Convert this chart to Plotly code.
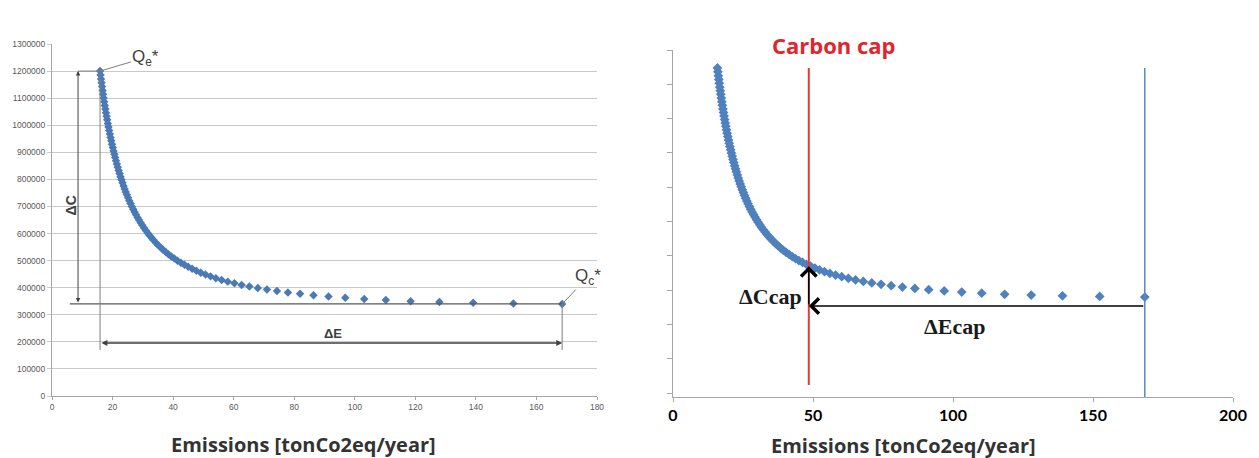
import plotly.graph_objects as go

# ---------------- data ----------------
EMISSIONS = [15.87, 16.03, 16.20, 16.36, 16.53, 16.71, 16.88, 17.06, 17.25, 17.44,
             17.63, 17.83, 18.03, 18.23, 18.45, 18.66, 18.88, 19.11, 19.34, 19.58,
             19.82, 20.07, 20.33, 20.59, 20.86, 21.13, 21.42, 21.71, 22.01, 22.32,
             22.63, 22.96, 23.29, 23.64, 24.00, 24.36, 24.74, 25.13, 25.53, 25.95,
             26.38, 26.82, 27.28, 27.75, 28.25, 28.75, 29.28, 29.83, 30.40, 30.99,
             31.60, 32.24, 32.91, 33.60, 34.32, 35.08, 35.87, 36.69, 37.56, 38.46,
             39.41, 40.41, 41.46, 42.57, 43.74, 44.97, 46.28, 47.66, 49.13, 50.69,
             52.35, 54.13, 56.03, 58.07, 60.26, 62.63, 65.19, 67.97, 70.99, 74.30,
             77.93, 81.93, 86.37, 91.32, 96.86, 103.12, 110.25, 118.44, 127.94, 139.10,
             152.39, 168.49]

COST = [1200000, 1185500, 1170600, 1156800, 1142800, 1128100, 1114700, 1101000, 1086900, 1073100,
        1059800, 1046200, 1033000, 1020000, 1006300, 993700, 980800, 967700, 955000, 942300,
        929800, 917400, 904800, 892700, 880600, 868800, 856600, 844800, 833100, 821400,
        810100, 798500, 787200, 775800, 764600, 753800, 742800, 732000, 721400, 710800,
        700200, 690000, 679700, 669800, 659500, 649900, 640000, 630300, 620800, 611300,
        602000, 592900, 583700, 574800, 566000, 557200, 548600, 540200, 531800, 523600,
        515500, 507600, 499700, 492000, 484400, 477000, 469700, 462500, 455500, 448600,
        441800, 435200, 428700, 422400, 416200, 410200, 404300, 398600, 393000, 387600,
        382300, 377300, 372300, 367600, 363000, 358600, 354400, 350300, 347500, 344500,
        342000, 340000]

LEFT_X_TICKS = [0, 20, 40, 60, 80, 100, 120, 140, 160, 180]
LEFT_Y_TICKS = [0, 100000, 200000, 300000, 400000, 500000, 600000,
                700000, 800000, 900000, 1000000, 1100000, 1200000, 1300000]
RIGHT_X_TICKS = [0, 50, 100, 150, 200]

CAP_EMISSIONS = 48.5           # carbon cap (red line)
X_TITLE = "Emissions [tonCo2eq/year]"

# ---------------- annotation placement (data units) ----------------
DC_ARROW_E = 8.6
QC_LINE_START_E = 5.9
DE_ARROW_C = 195700
GUIDE_BOTTOM_C = 169900
DE_LABEL = (92.8, 229000)
DC_LABEL = (6.4, 705400)
QE_LABEL = (31.0, 1250000)
QC_LABEL = (177.0, 439500)

RIGHT_Y_RANGE = [-35500, 1267600]
RIGHT_Y_TICK0, RIGHT_Y_DTICK = -20500, 128800
CAP_ARROW_C = 306200
RED_BOTTOM_C = 9500
DCCAP_LABEL_C = 343800
DECAP_LABEL = (100.7, 231100)

e_min, e_max = min(EMISSIONS), max(EMISSIONS)
c_max, c_min = max(COST), min(COST)
i_cap = min(range(len(EMISSIONS)), key=lambda i: abs(EMISSIONS[i] - CAP_EMISSIONS))
cap_cost = COST[i_cap]

# the page body adds an 8 px offset; size the figure so it ends at the window edge
PAGE_OFF = 8
W, H = 1259 - PAGE_OFF, 458 - PAGE_OFF
def fx(p):
    return (p - PAGE_OFF) / W
def fy(p):
    return 1 - (p - PAGE_OFF) / H
def px_x(a, b):
    return [fx(a), fx(b)]
def px_y(top, bottom):
    return [fy(bottom), fy(top)]

BLUE = "#4f81bd"
GRID = "#c9c9c9"
AX = "#a6a6a6"
DARK = "#404040"

fig = go.Figure()
fig.add_trace(go.Scatter(x=EMISSIONS, y=COST, mode="markers",
                         marker=dict(symbol="diamond", size=6.5, color="#4a7ab5", line=dict(width=0)),
                         xaxis="x", yaxis="y", hoverinfo="x+y"))
fig.add_trace(go.Scatter(x=EMISSIONS, y=COST, mode="markers",
                         marker=dict(symbol="diamond", size=7.5, color=BLUE, line=dict(width=0)),
                         xaxis="x2", yaxis="y2", hoverinfo="x+y"))

small = dict(family="Liberation Sans, Arial, sans-serif", size=8.5, color="#595959")

fig.update_layout(
    width=W, height=H, margin=dict(l=0, r=0, t=0, b=0, autoexpand=False),
    paper_bgcolor="white", plot_bgcolor="white", showlegend=False,
    xaxis=dict(domain=px_x(52, 597), range=[0, 180], tickvals=LEFT_X_TICKS,
               showgrid=False, zeroline=False, showline=True, linecolor=AX,
               ticks="outside", ticklen=3, tickcolor=AX, tickfont=small, automargin=False),
    yaxis=dict(domain=px_y(44, 396), range=[0, 1300000], tickvals=LEFT_Y_TICKS,
               tickformat="d", showgrid=True, gridcolor=GRID, gridwidth=1,
               zeroline=False, showline=True, linecolor=AX, automargin=False,
               ticks="outside", ticklen=4, tickcolor=GRID, tickfont=small),
    xaxis2=dict(domain=px_x(673, 1233), range=[0, 200], tickvals=RIGHT_X_TICKS,
                showgrid=False, zeroline=False, showline=True, linecolor=AX,
                ticks="outside", ticklen=4, tickcolor=AX, anchor="y2", automargin=False,
                tickfont=dict(family="Lato, sans-serif", size=16, color="black", weight="bold")),
    yaxis2=dict(domain=px_y(50, 397), range=RIGHT_Y_RANGE, anchor="x2", automargin=False,
                showticklabels=False, showgrid=False, zeroline=False,
                showline=True, linecolor=AX, ticks="outside", ticklen=5,
                tickcolor=AX, tick0=RIGHT_Y_TICK0, dtick=RIGHT_Y_DTICK),
)

shapes = []
def seg(x0, y0, x1, y1, xr, yr, color, width):
    shapes.append(dict(type="line", xref=xr, yref=yr, x0=x0, y0=y0, x1=x1, y1=y1,
                       line=dict(color=color, width=width)))

# left chart guide lines
seg(DC_ARROW_E, c_max, e_min, c_max, "x", "y", "#7f7f7f", 1)
seg(QC_LINE_START_E, c_min, e_max, c_min, "x", "y", "#595959", 1.2)
seg(e_min, c_max, e_min, GUIDE_BOTTOM_C, "x", "y", "#7f7f7f", 1)
seg(e_max, c_min, e_max, GUIDE_BOTTOM_C, "x", "y", "#7f7f7f", 1)
# right chart vertical lines
seg(CAP_EMISSIONS, RED_BOTTOM_C, CAP_EMISSIONS, c_max, "x2", "y2", "#e8383d", 2)
seg(e_max, RIGHT_Y_RANGE[0], e_max, c_max, "x2", "y2", "#5b88c6", 1.5)
fig.update_layout(shapes=shapes)

ann = []
def arrow(x, y, ax, ay, xr, yr, head, side, size, width, color):
    ann.append(dict(x=x, y=y, ax=ax, ay=ay, xref=xr, yref=yr, axref=xr, ayref=yr,
                    text="", showarrow=True, arrowhead=head, startarrowhead=head,
                    arrowside=side, arrowsize=size, startarrowsize=size,
                    arrowwidth=width, arrowcolor=color))
def label(text, x, y, xr, yr, font, **kw):
    kw.setdefault("xanchor", "center")
    kw.setdefault("yanchor", "middle")
    ann.append(dict(text=text, x=x, y=y, xref=xr, yref=yr, showarrow=False, font=font, **kw))

# left chart arrows
arrow(DC_ARROW_E, c_max, DC_ARROW_E, c_min, "x", "y", 2, "end+start", 0.9, 1, DARK)
arrow(e_max, DE_ARROW_C, e_min, DE_ARROW_C, "x", "y", 2, "end+start", 0.9, 1.3, DARK)
# leader lines for Q labels
qfont = dict(family="Liberation Sans, Arial", size=17, color=DARK)
ann.append(dict(x=e_min, y=c_max, ax=QE_LABEL[0], ay=QE_LABEL[1], xref="x", yref="y",
                axref="x", ayref="y", text="Q<sub>e</sub>*", showarrow=True, arrowhead=0,
                arrowwidth=1, arrowcolor="#7f7f7f", font=qfont))
ann.append(dict(x=e_max, y=c_min, ax=QC_LABEL[0], ay=QC_LABEL[1], xref="x", yref="y",
                axref="x", ayref="y", text="Q<sub>c</sub>*", showarrow=True, arrowhead=0,
                arrowwidth=1, arrowcolor="#7f7f7f", font=qfont))
label("ΔC", DC_LABEL[0], DC_LABEL[1], "x", "y",
      dict(family="Liberation Sans, Arial", size=14, color=DARK, weight="bold"), textangle=-90)
label("ΔE", DE_LABEL[0], DE_LABEL[1], "x", "y",
      dict(family="Liberation Sans, Arial", size=13, color=DARK, weight="bold"))

# right chart arrows and labels
arrow(CAP_EMISSIONS, CAP_ARROW_C, e_max, CAP_ARROW_C, "x2", "y2", 4, "end", 2, 1.5, "black")
arrow(CAP_EMISSIONS, cap_cost, CAP_EMISSIONS, CAP_ARROW_C, "x2", "y2", 4, "end", 2, 1.5, "black")
serif = dict(family="Liberation Serif, Times New Roman, serif", size=22, color="#1a1a1a", weight="bold")
label("ΔCcap", CAP_EMISSIONS, DCCAP_LABEL_C, "x2", "y2", serif, xanchor="right", xshift=-5)
label("ΔEcap", DECAP_LABEL[0], DECAP_LABEL[1], "x2", "y2", serif)
label("Carbon cap", fx(834), fy(45), "paper", "paper",
      dict(family="Open Sans, sans-serif", size=22, color="#e0262c", weight="bold"))

# axis titles
title_font = dict(family="Open Sans, sans-serif", size=20, color="#333333", weight="bold")
label(X_TITLE, fx(303), fy(444), "paper", "paper", title_font)
label(X_TITLE, fx(903), fy(445), "paper", "paper", title_font)

fig.update_layout(annotations=ann)
fig.write_html("out.html")
